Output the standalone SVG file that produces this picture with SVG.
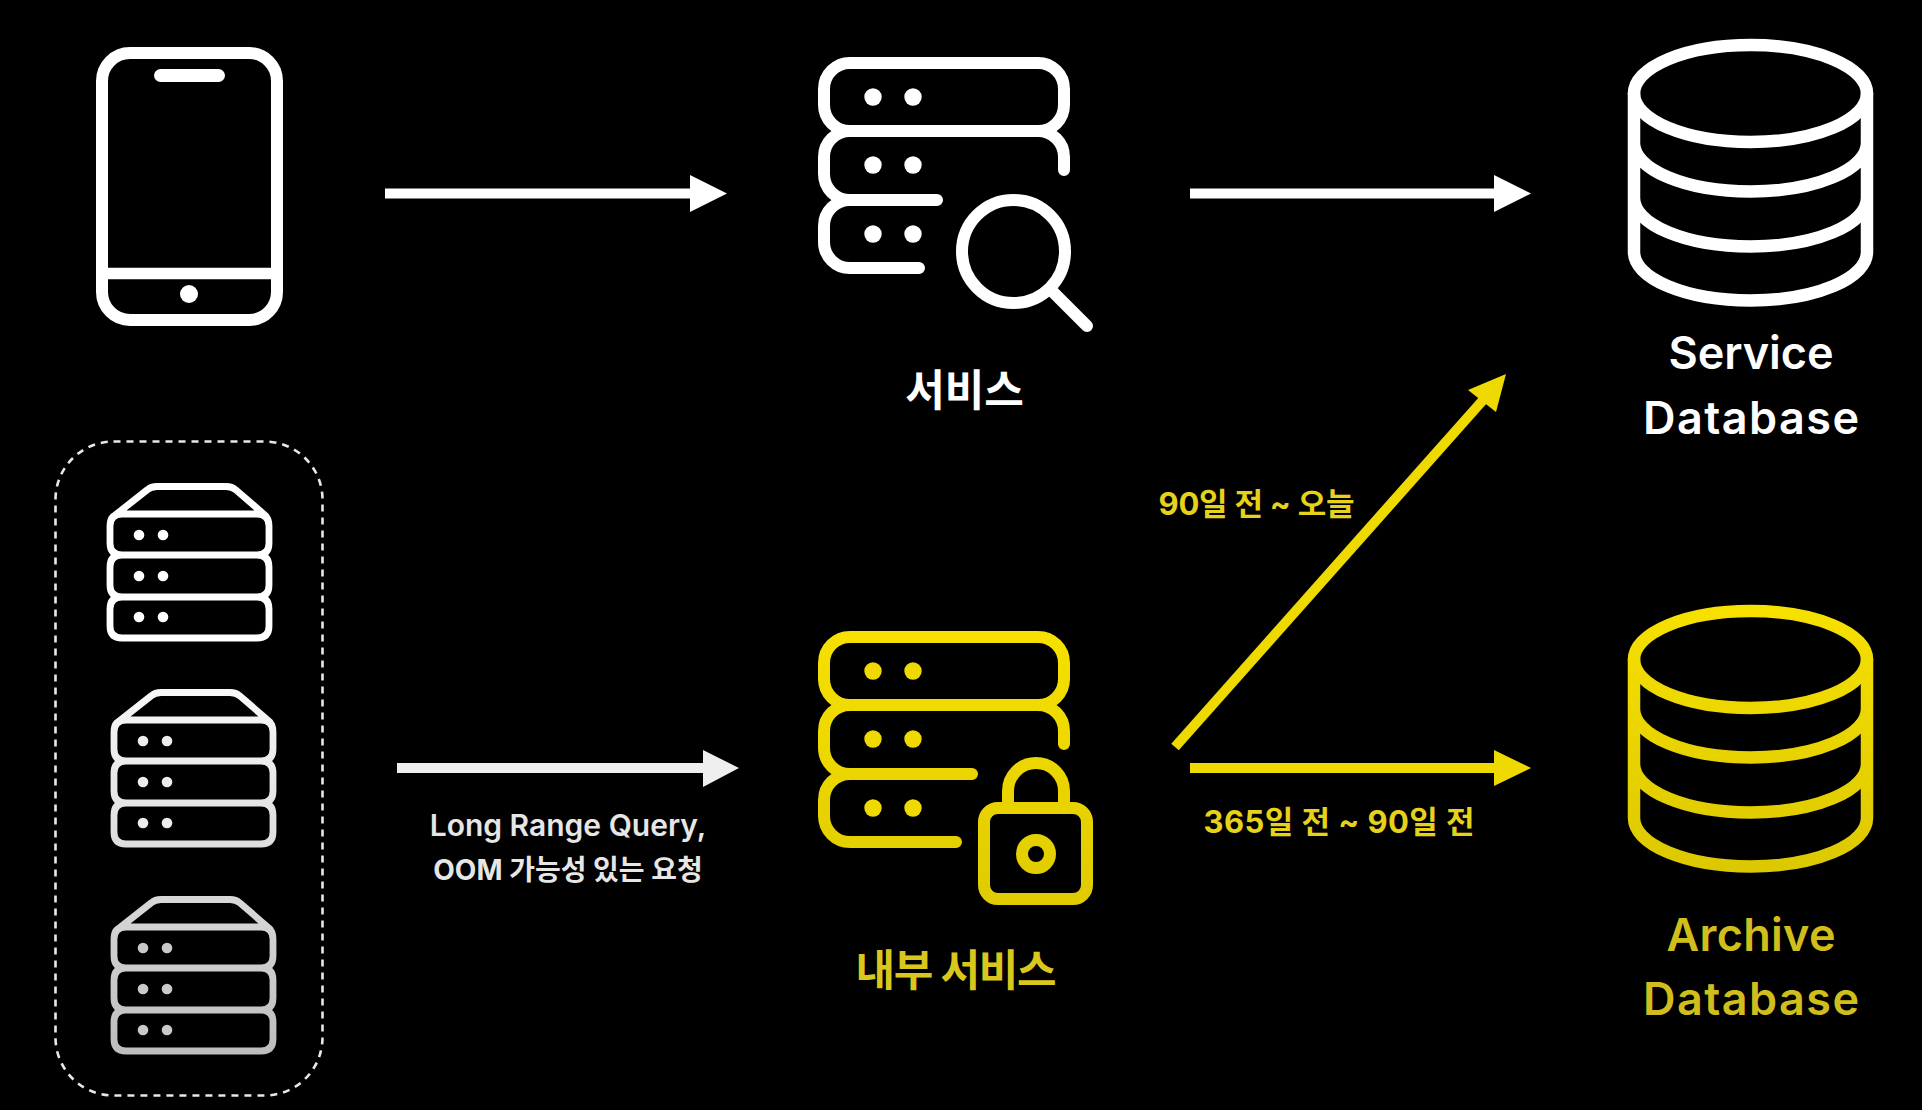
<svg xmlns="http://www.w3.org/2000/svg" width="1922" height="1110" viewBox="0 0 1922 1110">
<style>
text{font-family:"Inter","Noto Sans CJK KR","Noto Sans",sans-serif;font-weight:600;text-anchor:middle}
.ic{fill:none;stroke-linecap:round;stroke-linejoin:round}
.big{font-size:45px}
.kr{font-size:43px;font-weight:700}
.mid{font-size:30px}
.krs{font-size:28px;font-weight:700}
.ylab{font-size:31px;font-weight:700;fill:#e6d218}
.w{fill:#fff}
.g{fill:#e6e6e6}
.y{fill:#d9c71c}
.ya{fill:#cfbe1c}
</style>
<defs>
<linearGradient id="gs" gradientUnits="userSpaceOnUse" x1="0" y1="631" x2="0" y2="905"><stop offset="0" stop-color="#f7e100"/><stop offset="1" stop-color="#dfcb00"/></linearGradient>
<linearGradient id="gd" gradientUnits="userSpaceOnUse" x1="0" y1="38" x2="0" y2="307"><stop offset="0" stop-color="#f7e100"/><stop offset="1" stop-color="#dcc800"/></linearGradient>
<linearGradient id="g2" gradientUnits="userSpaceOnUse" x1="0" y1="483" x2="0" y2="641"><stop offset="0" stop-color="#f8f8f8"/><stop offset="1" stop-color="#dedede"/></linearGradient>
<linearGradient id="g3" gradientUnits="userSpaceOnUse" x1="0" y1="483" x2="0" y2="641"><stop offset="0" stop-color="#d8d8d8"/><stop offset="1" stop-color="#bdbdbd"/></linearGradient>
<g id="rack">
<path class="ic" stroke-width="6.800" d="M122 514 H257 Q269 514 269 526 V543 Q269 555 257 555 H122 Q110 555 110 543 V526 Q110 514 122 514Z M122 555 H257 Q269 555 269 567 V585 Q269 597 257 597 H122 Q110 597 110 585 V567 Q110 555 122 555Z M122 597 H257 Q269 597 269 609 V626 Q269 638 257 638 H122 Q110 638 110 626 V609 Q110 597 122 597Z M114 516 L147 490 Q151 486.500 157 486.500 H226 Q232 486.500 236 490 L266 516"/>
<g stroke="none"><circle cx="139" cy="535" r="5.300"/><circle cx="163" cy="535" r="5.300"/><circle cx="139" cy="576" r="5.300"/><circle cx="163" cy="576" r="5.300"/><circle cx="139" cy="617" r="5.300"/><circle cx="163" cy="617" r="5.300"/></g>
</g>
<g id="db">
<ellipse class="ic" stroke-width="12.500" cx="1750.500" cy="93.500" rx="116.500" ry="48.500"/>
<path class="ic" stroke-width="12.500" d="M1634 93.500 V252 A116.500 48.500 0 0 0 1867 252 V93.500 M1634 143 A116.500 48.500 0 0 0 1867 143 M1634 198 A116.500 48.500 0 0 0 1867 198"/>
</g>
<g id="dots" stroke="none"><circle cx="873" cy="97" r="8.700"/><circle cx="913" cy="97" r="8.700"/><circle cx="873" cy="165" r="8.700"/><circle cx="913" cy="165" r="8.700"/><circle cx="873" cy="234" r="8.700"/><circle cx="913" cy="234" r="8.700"/></g>
</defs>
<rect width="1922" height="1110" fill="#000"/>

<g id="connectors">
<g id="c1"><rect x="385" y="188.500" width="307" height="10" fill="#fff"/><path d="M690 175 L727 193.500 L690 212Z" fill="#fff"/></g>
<g id="c2"><rect x="1190" y="188.500" width="306" height="10" fill="#fff"/><path d="M1494 175 L1531 193.500 L1494 212Z" fill="#fff"/></g>
<g id="c3"><rect x="397" y="763" width="308" height="10" fill="#efefef"/><path d="M703 750 L739 768 L703 787Z" fill="#efefef"/></g>
<g id="c4"><rect x="1190" y="763" width="306" height="10" fill="#eed900"/><path d="M1494 750 L1531 768 L1494 786Z" fill="#eed900"/></g>
<g id="c5"><line x1="1175" y1="747" x2="1484" y2="399" stroke="#eed900" stroke-width="10"/><path d="M1468 390 L1506 374 L1496 412Z" fill="#eed900"/></g>
</g>

<g id="phone" fill="#fff" stroke="#fff">
<rect class="ic" stroke-width="12" x="102" y="53" width="175" height="267" rx="28"/>
<line x1="102" y1="273.500" x2="277" y2="273.500" stroke-width="11.500"/>
<rect x="154" y="69" width="71" height="13" rx="6.500" stroke="none"/>
<circle cx="189" cy="294" r="9" stroke="none"/>
</g>

<g id="service" fill="#fff" stroke="#fff">
<path class="ic" stroke-width="12" d="M850 63 H1038 A26 26 0 0 1 1064 89 V105 A26 26 0 0 1 1038 131 H850 A26 26 0 0 1 824 105 V89 A26 26 0 0 1 850 63Z M1038 131 A26 26 0 0 1 1064 157 V170 M850 131 A26 26 0 0 0 824 157 V174 A26 26 0 0 0 850 200 H937 M850 200 A26 26 0 0 0 824 226 V242 A26 26 0 0 0 850 268 H919"/>
<use href="#dots"/>
<circle class="ic" stroke-width="12" cx="1013.500" cy="251.500" r="51.500"/>
<line class="ic" stroke-width="12" x1="1052" y1="291" x2="1087" y2="326"/>
<text class="kr w" x="964.500" y="406" stroke="none">서비스</text>
</g>

<g id="internal-service" fill="url(#gs)" stroke="url(#gs)">
<path class="ic" stroke-width="12" d="M850 637 H1038 A26 26 0 0 1 1064 663 V679 A26 26 0 0 1 1038 705 H850 A26 26 0 0 1 824 679 V663 A26 26 0 0 1 850 637Z M1038 705 A26 26 0 0 1 1064 731 V744 M850 705 A26 26 0 0 0 824 731 V748 A26 26 0 0 0 850 774 H972 M850 774 A26 26 0 0 0 824 800 V816 A26 26 0 0 0 850 842 H956"/>
<g transform="translate(0 574)" fill="#efd900"><use href="#dots"/></g>
<rect class="ic" stroke-width="12" x="984" y="808" width="103" height="91" rx="14"/>
<path class="ic" stroke-width="12" d="M1008 808 V791 A28 28 0 0 1 1064 791 V808"/>
<circle class="ic" stroke-width="12" cx="1036" cy="854" r="14"/>
<text class="kr y" x="956" y="986" stroke="none" textLength="201">내부 서비스</text>
</g>

<g id="worker-group">
<rect x="55.500" y="441.500" width="267" height="654" rx="58" fill="none" stroke="#e8e8e8" stroke-width="2.600" stroke-dasharray="7 6"/>
<g id="worker-1" fill="#fff" stroke="#fff"><use href="#rack"/></g>
<g id="worker-2" fill="#ededed" stroke="url(#g2)"><use href="#rack" transform="translate(4 206)"/></g>
<g id="worker-3" fill="#c9c9c9" stroke="url(#g3)"><use href="#rack" transform="translate(4 413)"/></g>
</g>

<g id="service-db" stroke="#fff" fill="#fff">
<use href="#db"/>
<text class="big w" x="1751" y="369" stroke="none" textLength="165">Service</text>
<text class="big w" x="1751" y="434" stroke="none" textLength="216">Database</text>
</g>

<g id="archive-db">
<g stroke="url(#gd)"><use href="#db" transform="translate(0 566)"/></g>
<text class="big ya" x="1751" y="951" textLength="169">Archive</text>
<text class="big ya" x="1751" y="1015" textLength="216">Database</text>
</g>

<g id="labels">
<text class="mid g" x="568" y="836">Long Range Query,</text>
<text class="krs g" x="568" y="880">OOM 가능성 있는 요청</text>
<text class="ylab" x="1256.500" y="515" textLength="196">90일 전 ~ 오늘</text>
<text class="ylab" x="1339" y="833" textLength="271">365일 전 ~ 90일 전</text>
</g>
</svg>
